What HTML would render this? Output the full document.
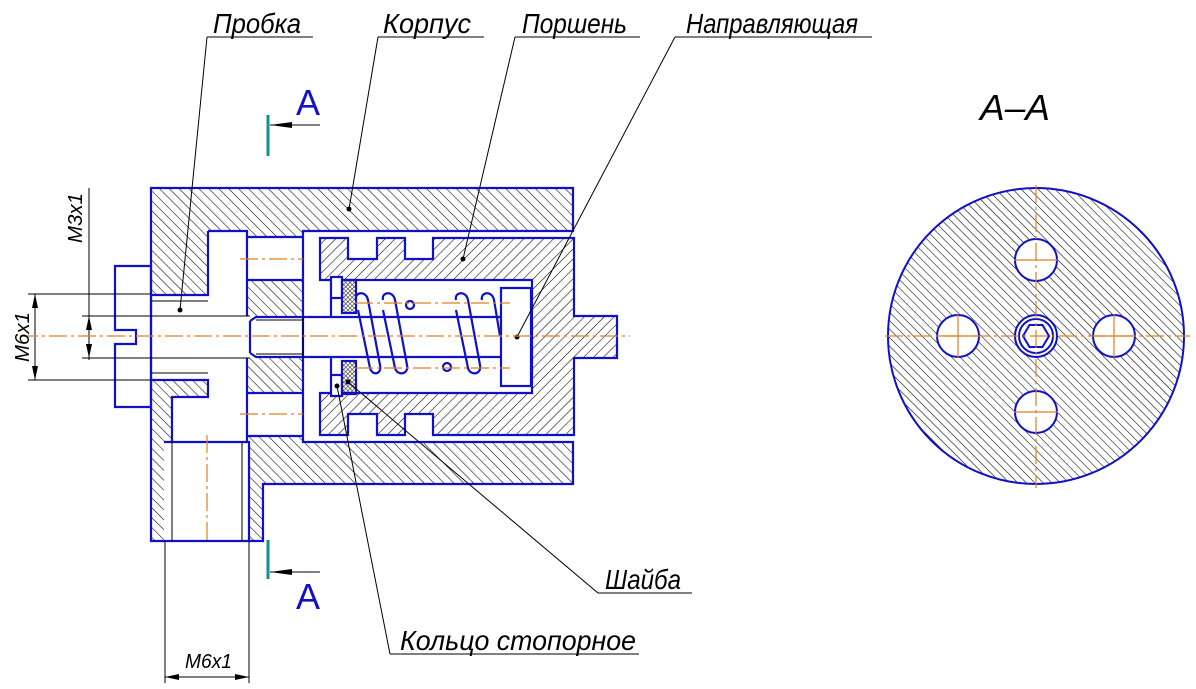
<!DOCTYPE html>
<html><head><meta charset="utf-8"><style>
html,body{margin:0;padding:0;background:#fff;}
svg{display:block;}
.t{font-family:"Liberation Sans",sans-serif;font-style:italic;fill:#000;}
</style></head><body>
<svg width="1196" height="689" viewBox="0 0 1196 689" xmlns="http://www.w3.org/2000/svg">
<defs>
<pattern id="hA" width="7" height="7" patternUnits="userSpaceOnUse" patternTransform="rotate(-45)">
<line x1="0" y1="0" x2="0" y2="7" stroke="#000" stroke-width="1.1"/></pattern>
<pattern id="hB" width="7" height="7" patternUnits="userSpaceOnUse" patternTransform="rotate(45)">
<line x1="0" y1="0" x2="0" y2="7" stroke="#000" stroke-width="1.1"/></pattern>
<pattern id="hC" width="6" height="6" patternUnits="userSpaceOnUse" patternTransform="rotate(-45)">
<line x1="0" y1="0" x2="0" y2="6" stroke="#000" stroke-width="1.1"/></pattern>
<pattern id="hX" width="3" height="3" patternUnits="userSpaceOnUse" patternTransform="rotate(45)">
<line x1="0" y1="0" x2="0" y2="3" stroke="#000" stroke-width="0.9"/><line x1="0" y1="0" x2="3" y2="0" stroke="#000" stroke-width="0.9"/></pattern>
</defs>

<path d="M151,188 H573 V484 H263 V541 H151 Z" fill="url(#hA)"/>
<g fill="#fff">
<rect x="303" y="231" width="270" height="211"/>
<rect x="208" y="231" width="39" height="211"/>
<rect x="151" y="295" width="57" height="85"/>
<rect x="172" y="397" width="36" height="45"/>
<rect x="164" y="442" width="85" height="99"/>
<rect x="247" y="237" width="56" height="43"/>
<rect x="247" y="393" width="56" height="43"/>
<rect x="247" y="316" width="56" height="42"/>
</g>
<path d="M320,238 H574 V316 H617 V358 H574 V435 H320 Z" fill="url(#hB)"/>
<g fill="#fff">
<rect x="320" y="280" width="212" height="113"/>
<rect x="348" y="238" width="29" height="21"/><rect x="405" y="238" width="28" height="21"/>
<rect x="348" y="414" width="29" height="21"/><rect x="405" y="414" width="28" height="21"/>
</g>
<circle cx="1036" cy="336" r="148" fill="url(#hC)"/>
<g fill="#fff" stroke="#1010c8" stroke-width="2">
<circle cx="1036" cy="260" r="21"/><circle cx="958" cy="336" r="21"/>
<circle cx="1114" cy="336" r="21"/><circle cx="1036" cy="412" r="21"/>
<circle cx="1036" cy="336" r="21"/>
</g>
<circle cx="1036" cy="336" r="148" fill="none" stroke="#1010c8" stroke-width="2"/>
<circle cx="1036" cy="336" r="17" fill="none" stroke="#1010c8" stroke-width="2"/>
<polygon points="1023,336 1029.5,325 1042.5,325 1049,336 1042.5,347 1029.5,347" fill="none" stroke="#1010c8" stroke-width="2"/>

<g fill="none" stroke="#1010c8" stroke-width="2.2">
<path d="M151,188 H573 V231 H303 V442 H573 V484 H263 V541 H151 Z"/>
<path d="M208,231 H247 V280 H303 M247,237 H303 M247,280 V316 M247,358 V393 H303 M247,436 H303 M247,393 V442 M208,231 V295 H151 M151,380 H208 V397 H172 V442 M164,442 H249 V541"/>
<path d="M115,266 H151 V407 H115 V344 H136 V330 H115 Z"/>
<path d="M320,238 H348 V259 H377 V238 H405 V259 H433 V238 H574 V316 H617 V358 H574 V435 H433 V414 H405 V435 H377 V414 H348 V435 H320 V393 H532 V280 H320 Z"/>
<path d="M250,321 L256,317 H501 M250,353 L256,357 H501 M250,321 V353"/>
<rect x="501" y="288" width="30" height="98"/>
<rect x="331" y="277" width="11" height="21" fill="#fff"/><rect x="331" y="375" width="11" height="21" fill="#fff"/>
<rect x="342" y="280" width="14" height="33" fill="url(#hX)"/><rect x="342" y="361" width="14" height="33" fill="url(#hX)"/>
<path d="M331,298 V317 M331,357 V375"/>
<path d="M356,300 C354,292 366,290 368,300 L380,365 C382,375 372,376 370,368 L358,310"/>
<path d="M383,300 C381,292 393,290 395,300 L407,365 C409,375 397,376 395,368 L383,310"/>
<path d="M456,300 C454,292 466,290 468,300 L480,365 C482,375 470,376 468,368 L456,310"/>
<path d="M482,300 C480,292 492,290 494,300 L500,336"/>
<circle cx="410" cy="305" r="4"/><circle cx="447" cy="367" r="4"/>
</g>
<g stroke="#000" stroke-width="1" fill="none">
<path d="M151,301 H208 M151,373 H208 M256,320 H303 M256,354 H303 M303,316 V358 M172,442 V541 M242,442 V541"/>
<path d="M82,316 H250 M82,358 H250 M28,294 H151 M28,380 H151 M89,188 V360 M35,294 V380"/>
<path d="M165,541 V683 M249,541 V683 M165,677 H249"/>
<path d="M207,37 H313 M207,37 L180,310"/>
<path d="M378,37 H484 M378,37 L349,209"/>
<path d="M515,37 H640 M515,37 L463,259"/>
<path d="M675,37 H872 M675,37 L517,337"/>
<path d="M598,593 H692 M598,593 L348,382"/>
<path d="M390,654 H639 M390,654 L337,386"/>
<path d="M270,125 H320 M270,572 H320"/>
</g>
<g fill="#000">
<circle cx="180" cy="310" r="2.5"/><circle cx="349" cy="209" r="2.5"/><circle cx="463" cy="259" r="2.5"/>
<circle cx="517" cy="337" r="2.5"/><circle cx="348" cy="382" r="2.5"/><circle cx="337" cy="386" r="2.5"/>
<polygon points="270,125 292,122 292,128"/><polygon points="270,572 292,569 292,575"/>
<polygon points="89,316 86,330 92,330"/><polygon points="89,358 86,344 92,344"/>
<polygon points="35,294 32,308 38,308"/><polygon points="35,380 32,366 38,366"/>
<polygon points="165,677 179,674 179,680"/><polygon points="249,677 235,674 235,680"/>
</g>
<g stroke="#e08020" stroke-width="1.2" fill="none" stroke-dasharray="18,4,3,4">
<path d="M20,336 H630"/>
<path d="M240,259 H303 M240,414 H303 M355,303 H510 M355,368 H510 M207,435 V540"/>
<path d="M885,336 H1190 M1036,185 V488"/>
</g>
<g stroke="#e08020" stroke-width="1.2">
<path d="M1014,260 H1058 M936,336 H980 M1092,336 H1136 M1014,412 H1058 M958,314 V358 M1114,314 V358"/>
</g>
<g stroke="#109090" stroke-width="3"><path d="M268,115 V156 M268,540 V579"/></g>
<g font-family="Liberation Sans,sans-serif" fill="#1010c8" font-size="36">
<text x="296" y="115">A</text><text x="296" y="609">A</text>
</g>
<text class="t" x="980" y="120" font-size="36" textLength="70" lengthAdjust="spacingAndGlyphs">А–А</text>
<g class="t" font-size="28">
<text x="213" y="33" textLength="88" lengthAdjust="spacingAndGlyphs">Пробка</text>
<text x="383" y="33" textLength="88" lengthAdjust="spacingAndGlyphs">Корпус</text>
<text x="522" y="33" textLength="105" lengthAdjust="spacingAndGlyphs">Поршень</text>
<text x="686" y="33" textLength="172" lengthAdjust="spacingAndGlyphs">Направляющая</text>
<text x="605" y="589" textLength="76" lengthAdjust="spacingAndGlyphs">Шайба</text>
<text x="400" y="650" textLength="236" lengthAdjust="spacingAndGlyphs">Кольцо стопорное</text>
</g>
<g class="t" font-size="20" fill="#222">
<text x="185" y="668" textLength="47" lengthAdjust="spacingAndGlyphs">M6x1</text>
<text transform="translate(82,243) rotate(-90)" textLength="50" lengthAdjust="spacingAndGlyphs">M3x1</text>
<text transform="translate(29,362) rotate(-90)" textLength="50" lengthAdjust="spacingAndGlyphs">M6x1</text>
</g>
</svg>
</body></html>
